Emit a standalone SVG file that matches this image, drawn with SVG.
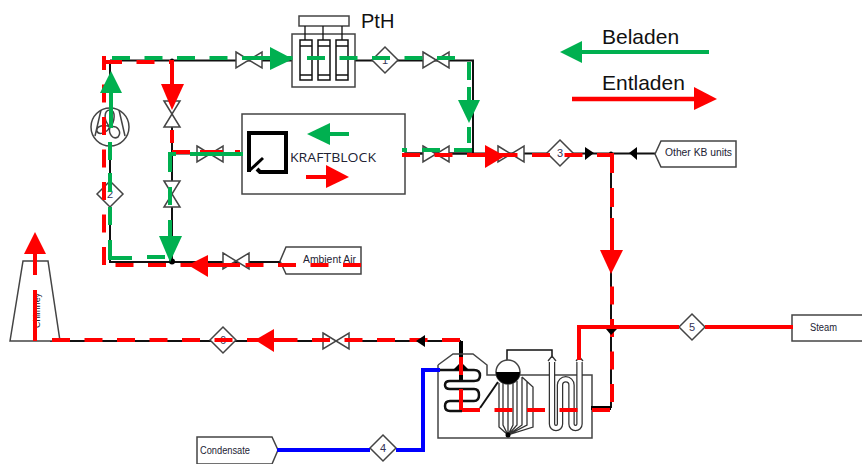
<svg xmlns="http://www.w3.org/2000/svg" width="862" height="464" viewBox="0 0 862 464">
<style>
.o{fill:none;stroke:#444;stroke-width:1.500}
.w{fill:#fff;stroke:#444;stroke-width:1.500}
.k{fill:none;stroke:#111;stroke-width:2}
.t{font-family:"Liberation Sans",Arial,sans-serif;fill:#223;font-size:10px}
.d{font-family:"Liberation Sans",Arial,sans-serif;fill:#335;font-size:11px;text-anchor:middle}
.l{font-family:"Liberation Sans",Arial,sans-serif;fill:#111;font-size:21px}
.r{fill:none;stroke:#f00;stroke-width:4}
.rd{fill:none;stroke:#f00;stroke-width:4;stroke-dasharray:18 14.500}
.g{fill:none;stroke:#00b050;stroke-width:4}
.gd{fill:none;stroke:#00b050;stroke-width:4;stroke-dasharray:18 14.500}
.b{fill:none;stroke:#00f;stroke-width:4}
.rf{fill:#f00}.gf{fill:#00b050}
.b1{fill:none;stroke:#333;stroke-width:1.300}
</style>
<defs>
<path id="vh" d="M-13,-8 L13,8 L13,-8 L-13,8 Z" fill="#fff" stroke="#444" stroke-width="1.500"/>
<path id="vv" d="M-8,-13 L8,13 L-8,13 L8,-13 Z" fill="#fff" stroke="#444" stroke-width="1.500"/>
<path id="dm" d="M-13,0 L0,-13 L13,0 L0,13 Z" fill="#fff" stroke="#444" stroke-width="1.500"/>
</defs>

<g id="base-lines">
<path class="k" d="M110,60.500 H473 V153.500 H402"/>
<path class="k" d="M110,60 V262 H280 M172,60 V262 M172,153.500 H242"/>
<path class="k" d="M402,153.500 H655 M611,153 V408"/>
<path class="k" d="M50,341 H461"/>
<path fill="none" stroke="#000" stroke-width="4" d="M461,341 V381"/>
<circle cx="172" cy="261.500" r="3" fill="#000"/>
<circle cx="172" cy="60.500" r="2" fill="#000"/>
<circle cx="611" cy="153.500" r="2" fill="#000"/>
</g>

<g id="valves">
<use href="#vh" x="249" y="60"/><use href="#vh" x="436" y="60"/>
<use href="#vh" x="210" y="154"/><use href="#vh" x="436" y="154"/><use href="#vh" x="511" y="154"/>
<use href="#vh" x="236" y="261"/><use href="#vh" x="336" y="341"/>
<use href="#vv" x="172" y="114"/><use href="#vv" x="172" y="194"/>
</g>

<g id="node-pth">
<rect class="w" x="292" y="34" width="63" height="53"/>
<rect class="w" x="299" y="16" width="50" height="10"/>
<path class="k" style="stroke-width:1.300" d="M305,26 V40 M323,26 V40 M342,26 V40"/>
<path class="k" style="stroke-width:1.500" d="M300,40 h12 v40 h-12 z M318,40 h12 v40 h-12 z M336,40 h12 v40 h-12 z M300,46 h12 M318,46 h12 M336,46 h12 M300,75 h12 M318,75 h12 M336,75 h12"/>
<text x="361" y="28" class="l" style="font-size:20px">PtH</text>
</g>

<g id="node-fan">
<circle class="w" cx="110" cy="127" r="19"/>
<path class="o" d="M110,127 C103,120 104,110 110,110 C116,110 115,122 110,127 C118,125 122,132 118,137 C113,140 108,134 110,127 C106,134 98,135 97,131 C96,126 104,124 110,127 Z M101,110 L95,136 M119,110 L125,136"/>
</g>

<g id="node-kraftblock">
<rect class="w" x="242" y="114" width="163" height="80"/>
<path fill="none" stroke="#000" stroke-width="4" d="M249,172 V133 H286 V172 H260 L257,169"/>
<path fill="none" stroke="#000" stroke-width="3" d="M249,171 L263,158"/>
<text x="290" y="162" style="font-family:'Open Sans','Liberation Sans',sans-serif;font-size:13.500px;fill:#223" textLength="86" lengthAdjust="spacingAndGlyphs">KRAFTBLOCK</text>
</g>

<g id="node-ambient"><path class="w" d="M280,261 L286,247 H361 V274 H286 Z"/><text class="t" x="303" y="263" textLength="53" lengthAdjust="spacingAndGlyphs">Ambient Air</text></g>
<g id="node-other"><path class="w" d="M655,154 L661,141 H736 V167 H661 Z"/><text class="t" x="665" y="156" textLength="67" lengthAdjust="spacingAndGlyphs">Other KB units</text></g>
<g id="node-steam"><rect class="w" x="792" y="315" width="72" height="26"/><text class="t" x="810" y="331" textLength="27" lengthAdjust="spacingAndGlyphs">Steam</text></g>
<g id="node-condensate"><path class="w" d="M197,437 H272 L278,450 L272,464 H197 Z"/><text class="t" x="200" y="454" textLength="50" lengthAdjust="spacingAndGlyphs">Condensate</text></g>
<g id="node-chimney"><path class="w" d="M10,341 L23,261 H48 L60,341 Z"/><text class="t" transform="translate(40,328) rotate(-90)" style="font-size:9px" textLength="35" lengthAdjust="spacingAndGlyphs">Chimney</text></g>

<g id="node-hx">
<path class="o" d="M438,365 V438 H592 V375 H487 V365 L473,354 H453 L438,365"/>
<path class="k" style="stroke-width:1.500" d="M507,362 V350 H552 V358"/>
<path fill="none" stroke="#111" stroke-width="2.500" d="M440,370 H474 Q480,370 480,375.500 Q480,381 474,381 H450 Q445,381 445,385 Q445,389 450,389 H474 Q479,389 479,395 Q479,401 474,401 H450 Q445,401 445,406 Q445,411 450,411 H462"/>
<path class="k" d="M480,408 L498,382"/>
<path d="M453,370 L461,362 L469,370 Z" fill="#000"/>
<path class="b1" d="M499,383 V427 L508,435 M503,383 V425 L508,435 M508,383 V435 M513,383 V425 L508,435 M517,381 V425 L508,435 M522,377 V425 L508,435 M527,381 V425 L508,435 M522,377 L533,387 V427 L508,435"/>
<circle class="w" cx="508" cy="372" r="12"/>
<path d="M496,372 H520 A12,12 0 0 1 496,372 Z" fill="#000"/>
<circle cx="508" cy="435" r="2.500" fill="#000"/>
<path id="sh" fill="none" stroke="#333" stroke-width="6.500" d="M552,362 V424 A4,4 0 0 0 560,424 V385 A5.750,5.750 0 0 1 571.500,385 V424 A4,4 0 0 0 579.500,424 V362"/>
<path fill="none" stroke="#fff" stroke-width="4" d="M552,361 V424 A4,4 0 0 0 560,424 V385 A5.750,5.750 0 0 1 571.500,385 V424 A4,4 0 0 0 579.500,424 V361"/>
<path class="b1" d="M548,361 L552,356 L556,361 M576,361 L579.500,357 L583,361"/>
</g>

<g id="diamonds">
<g transform="translate(385,60)"><use href="#dm"/><text class="d" y="4">1</text></g>
<g transform="translate(110,194)"><use href="#dm"/><text class="d" y="4">2</text></g>
<g transform="translate(560,153)"><use href="#dm"/><text class="d" y="4">3</text></g>
<g transform="translate(223,340)"><use href="#dm"/><text class="d" y="4">6</text></g>
<g transform="translate(383,448)"><use href="#dm"/><text class="d" y="4">4</text></g>
<g transform="translate(692,327)"><use href="#dm"/><text class="d" y="4">5</text></g>
</g>

<g id="connectors">
<path class="rd" d="M104,62 H172"/>
<path class="rd" d="M104,265 V56"/>
<path class="r" d="M172,60 V90 M172,130 V143"/>
<path class="r" d="M172,152 H190 M200,152 H223 M235,152 H240"/>
<path class="rd" d="M402,155 H612"/>
<path class="r" d="M474,155 H495"/>
<path class="r" d="M612,153 V173 M612,188 V207 M612,218 V252"/>
<path class="rd" d="M612,402 V276"/>
<path class="rd" d="M361,265 H104"/>
<path class="r" d="M205,265 H240"/>
<path class="r" d="M35,254 V275 M35,290 V341"/>
<path class="rd" d="M460,340 H51"/>
<path class="r" d="M250,340 H297"/>
<path class="r" d="M461,357 V375 M461,389 V410"/>
<path fill="none" stroke="#000" stroke-width="4" d="M591,408 H611"/>
<path class="rd" d="M462,410 H612"/>
<path class="r" d="M579,360 V327 H679 M705,327 H793"/>
<path class="b" d="M440,370 H423 V450 H396 M370,450 H277"/>
<path class="gd" d="M112,58 H469"/>
<path class="g" d="M244,58 H275"/>
<path class="g" d="M469,62 V80 M469,87 V102 M469,127 V143 M472,150 H454 M440,150 H422 M407,150 H402"/>
<path class="g" d="M111,92 V128"/>
<path class="g" d="M110,142 V160 M110,173 V192 M110,207 V225 M110,240 V258 H132 M147,257 H165"/>
<path class="g" d="M243,154 H190 M176,154 H170 V172 M170,187 V205 M170,220 V240"/>
</g>

<g id="arrowheads">
<path class="gf" d="M293,59 L270,47 V70 Z"/>
<path class="gf" d="M111,71 L100,93 H122 Z"/>
<path class="rf" d="M172,110 L161,84 H184 Z"/>
<path class="gf" d="M170,262 L159,236 H182 Z"/>
<path class="rf" d="M188,265 L208,255 V277 Z"/>
<path class="gf" d="M469,123 L458,100 H480 Z"/>
<path class="rf" d="M505,156 L485,145 V168 Z"/>
<path class="rf" d="M611,274 L600,250 H623 Z"/>
<path class="rf" d="M35,232 L24,254 H46 Z"/>
<path class="rf" d="M255,340 L274,329 V352 Z"/>
<path d="M594,153 L585,147 V160 Z M629,153 L637,147 V160 Z M416,341 L425,335 V347 Z M606,329 H617 L611,335 Z" fill="#000"/>
</g>

<g id="legend">
<path class="g" d="M575,52 H709"/><path class="gf" d="M560,52 L582,41 V63 Z"/>
<text class="l" x="602" y="44">Beladen</text>
<path class="r" style="stroke-width:4.500" d="M572,99 H700"/><path class="rf" d="M717,99 L694,87 V110 Z"/>
<text class="l" x="602" y="90">Entladen</text>
<path class="g" d="M320,134 H349"/><path class="gf" d="M307,134 L330,123 V145 Z"/>
<path class="r" d="M306,177 H330"/><path class="rf" d="M349,177 L326,165 V188 Z"/>
</g>
</svg>
